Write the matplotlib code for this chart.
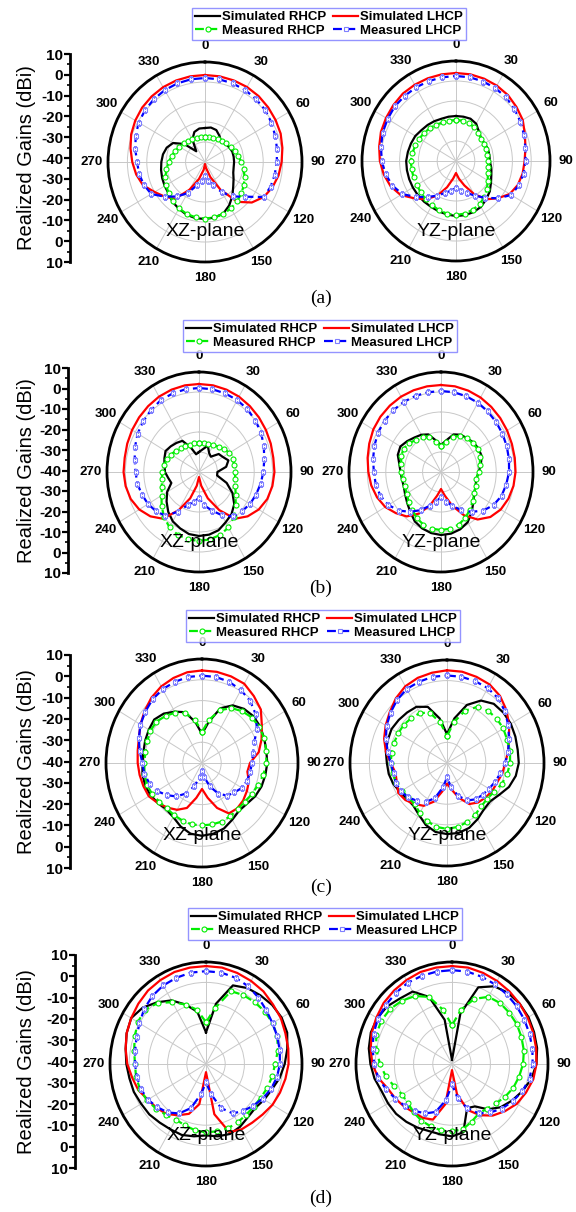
import numpy as np
import matplotlib
matplotlib.use('Agg')
from matplotlib import pyplot as plt
from matplotlib.lines import Line2D
from matplotlib.ticker import MultipleLocator

plt.rcParams['font.family'] = ['Liberation Sans', 'DejaVu Sans']

W, H = 576, 1212

ANGLES = list(range(0, 360, 10))
THETA_TICKS = list(range(0, 360, 30))
GAIN_TICKS = [10, 0, -10, -20, -30, -40, -30, -20, -10, 0, 10]
SERIES = ['Simulated RHCP', 'Simulated LHCP', 'Measured RHCP', 'Measured LHCP']
CAPTIONS = ['(a)', '(b)', '(c)', '(d)']
PLANES = ['XZ-plane', 'YZ-plane']

# (a) -------------------------------------------------------------
a_xz_sim_rhcp = [-23, -22.5, -23, -25, -27, -26, -25.5, -25, -25, -25, -25, -24.5,
                 -23, -21, -18, -15, -12.5, -11.8, -11.5, -11.5, -12, -13, -14, -15.5,
                 -16, -16.5, -17, -17.5, -18, -19, -21, -26, -33, -27, -24, -23]
a_xz_sim_lhcp = [3.5, 3.5, 3.4, 3.3, 3, 2.5, 2, 1.5, 0.5, -0.5, -1.5, -3,
                 -5, -8.5, -14, -24, -32, -37, -39, -36, -31, -24, -16, -13,
                 -10, -6, -4, -2.5, -1, 0.5, 1.5, 2.3, 2.8, 3.2, 3.4, 3.5]
a_xz_meas_rhcp = [-27.5, -27.5, -27.3, -27, -26.3, -25.6, -24.8, -23.7, -22.5, -21.3, -19.8, -18.3,
                  -16.9, -15.5, -14.3, -13.2, -12.4, -11.9, -11.7, -11.9, -12.4, -13.2, -14.3, -15.5,
                  -16.9, -18.3, -19.8, -21.3, -22.5, -23.7, -24.8, -25.6, -26.3, -27, -27.3, -27.5]
a_xz_meas_lhcp = [2, 2, 1.8, 1.5, 1, 0.5, -0.5, -1.5, -2.3, -3, -3.5, -4,
                  -5, -13, -17.5, -22.5, -27.5, -30.5, -33, -30.5, -27.5, -22, -17.5, -13,
                  -8, -6.5, -5.5, -5, -3.5, -2, -0.5, 0.3, 1, 1.5, 1.8, 2]

a_yz_sim_rhcp = [-17.5, -17.5, -17.5, -18.5, -21, -22.5, -22.5, -22, -22, -22, -21, -20,
                 -18.5, -16.5, -15, -13.5, -12.8, -12.5, -12.5, -12.8, -13.2, -13.5, -13.5, -13.5,
                 -13.5, -13.5, -13.5, -13.5, -14, -14.5, -15, -16, -16.5, -17, -17.5, -17.5]
a_yz_sim_lhcp = [4, 4, 3.8, 3.5, 3, 2, 1, -1, -2.5, -3.5, -4, -5,
                 -7, -11, -15, -21, -27, -31, -34, -31, -26, -20, -15, -11,
                 -6, -3, -1, 0.5, 1.5, 2.5, 3, 3.5, 4, 4, 4, 4]
a_yz_meas_rhcp = [-19.5, -19.5, -20, -20.5, -21.5, -22.5, -23, -23, -23, -23, -22.5, -22,
                  -20.5, -18.5, -16.5, -15, -14, -13.3, -13, -13.2, -13.8, -14.5, -15, -15.5,
                  -16, -16, -16, -16, -16.5, -17, -17.5, -18, -18.5, -19, -19.5, -19.5]
a_yz_meas_lhcp = [2.5, 2.5, 2.3, 2, 1.5, 0.5, -0.5, -1.5, -2.5, -3, -3.5, -4.5,
                  -6, -11, -16, -20, -23, -25, -26.5, -25, -23, -20, -16.5, -12,
                  -7, -4, -2, -0.5, 0.5, 1.5, 2, 2.5, 2.5, 2.5, 2.5, 2.5]

# (b) -------------------------------------------------------------
b_xz_sim_rhcp = [-30, -28.5, -26, -29, -30, -26, -25, -23, -25, -30, -30, -24,
                 -19, -15, -12.5, -11, -9, -8.2, -8, -8.5, -10, -11.5, -14, -17,
                 -20, -24, -23, -21.5, -21, -20, -19, -20, -21, -22, -27, -31]
b_xz_sim_lhcp = [4, 4, 3.8, 3.5, 3, 2.5, 2, 1.5, 1, 1, 0.5, -0.5,
                 -2.5, -5.5, -9.5, -18, -26, -33, -37.5, -33, -26, -18, -9.5, -5.5,
                 -2.5, -0.5, 0.5, 1, 1, 1.5, 2, 2.5, 3, 3.5, 3.8, 4]
b_xz_meas_rhcp = [-25.5, -25.5, -25, -24.5, -23.5, -22, -21, -20.5, -20.5, -20.5, -20, -19,
                  -17, -14, -10.5, -8, -6.5, -5.8, -5.5, -5.8, -6.5, -8, -10.5, -13.5,
                  -16.5, -18.5, -19.5, -20, -20.5, -21.5, -22.5, -23.5, -24.5, -25, -25.5, -25.5]
b_xz_meas_lhcp = [2, 2, 1.8, 1.5, 1, 0, -1, -2.5, -4, -5, -6, -7,
                  -8, -9.5, -11, -15, -19.5, -23, -27, -25, -22.5, -17, -11.5, -9.5,
                  -8, -7, -6, -5.5, -4.5, -3, -1.5, -0.5, 0.5, 1.5, 1.8, 2]

b_yz_sim_rhcp = [-26.5, -24, -20, -18.5, -18, -17, -16.5, -16.5, -18, -19.5, -20.5, -20,
                 -19, -17, -14, -11, -9.5, -8.7, -8.5, -9, -10, -11.5, -14, -16,
                 -17.5, -18.5, -18.5, -18, -17, -15, -14.5, -16, -17.5, -18.5, -20, -24]
b_yz_sim_lhcp = [3.5, 3.5, 3.3, 3, 2.5, 2, 1.5, 1, 0.7, 0.5, 0, -1,
                 -2.5, -5, -9, -15, -22, -28, -31.5, -28, -22, -16, -11, -8,
                 -5, -3, -1.5, -0.5, 0.5, 1.5, 2.5, 3, 3.3, 3.5, 3.5, 3.5]
b_yz_meas_rhcp = [-27, -25, -21.5, -19, -18, -17.5, -17, -17.5, -18.5, -19.5, -20.5, -20,
                  -19, -17.5, -15.5, -13.5, -12, -11.2, -11, -11.2, -12, -13.5, -15.5, -17,
                  -18.5, -19, -19, -18.5, -18, -17, -16.5, -17.5, -19, -20, -21.5, -25]
b_yz_meas_lhcp = [0.5, 0.5, 0.3, 0, -0.5, -1, -1.5, -2, -2.5, -3, -4, -5,
                  -7, -10, -14, -18, -22, -25, -27.5, -25, -22, -18, -14, -10,
                  -7, -5, -4, -3.5, -2.5, -1.5, -0.5, 0, 0.3, 0.5, 0.5, 0.5]

# (c) -------------------------------------------------------------
c_xz_sim_rhcp = [-26, -20, -12, -8, -6, -5, -5, -5.5, -6, -6, -6.5, -7,
                 -8, -9.5, -10, -8.5, -6.5, -5.5, -5, -5.5, -7.5, -10, -11, -10,
                 -9, -8.5, -8.5, -9, -9, -8.5, -8, -7.5, -9, -11.5, -14, -20]
c_xz_sim_lhcp = [4.5, 4.5, 4.3, 4, 2, 0, -4, -7, -10, -15, -16, -14,
                 -13, -12, -11.5, -12, -17, -23, -27.5, -23, -17, -14, -12, -10,
                 -8, -7.5, -7, -6.5, -6, -5, -3, -1, 1, 2.5, 3.5, 4.3]
c_xz_meas_rhcp = [-25, -19, -13, -9.5, -7.5, -6, -5.5, -5.5, -6, -6.5, -7.5, -9,
                  -10, -11, -11, -10.5, -10, -10, -10, -10, -10.5, -11, -11.5, -11,
                  -10, -9.5, -9.5, -10, -10, -9.5, -9, -9, -10.5, -12, -14.5, -19]
c_xz_meas_lhcp = [2, 2, 1.5, 0.5, -1, -3.5, -7, -11, -13, -14, -14.5, -15,
                  -16, -18, -19.5, -23, -28, -33, -36, -33, -28, -23, -19, -16,
                  -13, -11, -9.5, -9, -7, -5, -3, -1.5, 0, 1, 1.5, 2]

c_yz_sim_rhcp = [-26, -18, -10, -5, -2.5, -2, -2, -2.5, -3, -3, -4, -6,
                 -9, -11, -10.5, -8.5, -6.5, -5.5, -5.5, -6, -8, -11, -13, -13,
                 -12, -10.5, -9.5, -9, -8, -7.5, -7, -7.5, -8, -8.5, -11, -18]
c_yz_sim_lhcp = [5, 5, 4.5, 4, 2.5, 0, -3, -6, -8, -10, -11, -12.5,
                 -13, -14, -15, -17, -22, -27, -30, -26, -20, -16, -14, -12,
                 -11, -12.5, -13, -11, -8, -5.5, -3.5, -1.5, 1, 3, 4, 4.5]
c_yz_meas_rhcp = [-27, -20, -13, -8.5, -7, -6.5, -6.5, -7, -7, -7.5, -8.5, -10,
                  -12, -13, -12.5, -11, -9.5, -8.5, -8, -8.5, -10, -12, -14, -14,
                  -13, -12, -11.5, -11, -11, -11, -11, -11, -11.5, -12, -14, -20]
c_yz_meas_lhcp = [2.5, 2.5, 2.3, 2, 1, -1, -3.5, -6, -8, -10, -12, -13.5,
                  -15, -16, -17, -19, -23, -28, -33, -28, -22, -18, -16, -14,
                  -12.5, -12, -12, -11, -9, -6.5, -4, -2, 0, 1.5, 2, 2.5]

# (d) -------------------------------------------------------------
d_xz_sim_rhcp = [-24.5, -10, 1, 3, 4, 5, 5.5, 5, 3, 1, -1, -3.5,
                 -5, -6.5, -6, -4.5, -3.5, -4, -5, -4, -3, -3, -2.5, -1.5,
                 -1, 0, 0.5, 1.5, 2.5, 4, 5, 3, -0.5, -4, -9, -14]
d_xz_sim_lhcp = [8, 8, 7.5, 7, 6.5, 5.5, 5, 4, 3.5, 3, 2, 1,
                 0, -1.5, -2.5, -3, -4.5, -15, -36, -20, -14, -11, -8, -6.5,
                 -5, -2.5, -1, 1, 2.5, 4, 5, 6, 7, 7.5, 8, 8]
d_xz_meas_rhcp = [-19.5, -12, -2, -1, -0.5, 0, 0, -0.5, -2, -4, -5, -6,
                  -7, -7.5, -7.5, -7, -6.5, -6.5, -6.5, -7, -8, -8.5, -7.5, -6,
                  -4.5, -3.5, -3, -3, -2, -0.5, 1, 1.5, -1, -5, -9, -13]
d_xz_meas_lhcp = [5.5, 5.5, 5, 4, 2.5, 1, 0, -0.5, -1, -1.5, -2.5, -4,
                  -6, -8, -10, -12, -17, -25, -31, -25, -17, -12, -9, -7,
                  -5, -4, -3.5, -3, -2.5, -1.5, 0, 2, 3.5, 4.5, 5, 5.5]

d_yz_sim_rhcp = [-38, -15, 0, 4, 5.5, 6, 6, 5.5, 5, 4, 2, -1,
                 -4, -7, -11, -16, -17, -6, -4.5, -5, -5, -4, -3, -2,
                 -1.5, -1, 1, 2.5, 4, 5, 5, 4, 2, 1, -5, -18]
d_yz_sim_lhcp = [8, 8, 7.5, 7, 6.5, 6, 5.5, 5, 4.5, 4, 3, 1,
                 -1, -4, -7, -11, -16, -25, -37, -20, -11, -9.5, -9, -7.5,
                 -6, -4.5, -1, 1.5, 3, 4.5, 5.5, 6.5, 7, 7.5, 8, 8]
d_yz_meas_rhcp = [-21, -13, -6, -2, -1, -1, -1, -1.5, -2, -3, -4.5, -6,
                  -8, -10, -11.5, -12, -10, -7.5, -7, -7, -7.5, -8, -9, -10,
                  -10, -8, -5, -2.5, 0, 2, 2.5, 2, 0.5, -1.5, -5, -13]
d_yz_meas_lhcp = [6, 6, 5.5, 5, 4.5, 4, 3.5, 3, 2.5, 2, 1, -1,
                  -3.5, -6, -9, -12, -17, -23, -30, -22, -15, -12, -10, -8,
                  -6, -3.5, -1, 0.5, 2, 3.5, 4.5, 5, 5.5, 6, 6, 6]

PANELS = [
    [(a_xz_sim_rhcp, a_xz_sim_lhcp, a_xz_meas_rhcp, a_xz_meas_lhcp),
     (a_yz_sim_rhcp, a_yz_sim_lhcp, a_yz_meas_rhcp, a_yz_meas_lhcp)],
    [(b_xz_sim_rhcp, b_xz_sim_lhcp, b_xz_meas_rhcp, b_xz_meas_lhcp),
     (b_yz_sim_rhcp, b_yz_sim_lhcp, b_yz_meas_rhcp, b_yz_meas_lhcp)],
    [(c_xz_sim_rhcp, c_xz_sim_lhcp, c_xz_meas_rhcp, c_xz_meas_lhcp),
     (c_yz_sim_rhcp, c_yz_sim_lhcp, c_yz_meas_rhcp, c_yz_meas_lhcp)],
    [(d_xz_sim_rhcp, d_xz_sim_lhcp, d_xz_meas_rhcp, d_xz_meas_lhcp),
     (d_yz_sim_rhcp, d_yz_sim_lhcp, d_yz_meas_rhcp, d_yz_meas_lhcp)],
]

# pixel layout of each row: legend centre, left scale (x, top, bottom),
# polar centres/radii, caption centre
ROWS = [
    dict(leg=(329, 24), scale=(70, 54, 262),
         polar=[(205, 162, 97, 100), (456, 161, 94, 100)], cap=(321, 298)),
    dict(leg=(320, 336), scale=(68, 368, 573),
         polar=[(199, 472, 92, 100), (441, 472, 92, 100)], cap=(321, 588)),
    dict(leg=(323, 626), scale=(70, 655, 868),
         polar=[(202, 763, 96, 104), (447, 763, 97, 103)], cap=(321, 887)),
    dict(leg=(325, 924), scale=(75, 955, 1168),
         polar=[(206, 1064, 96, 102), (452, 1064, 96, 102)], cap=(321, 1198)),
]

STYLES = [
    dict(color='black', lw=1.6, ls='-'),
    dict(color='#ff0000', lw=1.6, ls='-'),
    dict(color='#00ee00', lw=1.6, ls=(0, (4, 2)), marker='o', ms=3.6,
         mfc='white', mec='#00ee00', mew=0.8),
    dict(color='#0000ff', lw=1.6, ls=(0, (4, 2)), marker='s', ms=3.2,
         mfc='white', mec='#7f7fff', mew=0.8),
]
DRAW_ORDER = [0, 1, 2, 3]


def px_box(cx, cy, rx, ry):
    return [(cx - rx) / W, 1 - (cy + ry) / H, 2 * rx / W, 2 * ry / H]


def main():
    fig = plt.figure(figsize=(W / 100, H / 100), dpi=100)
    theta = np.deg2rad(ANGLES + [360])

    for row, panels, cap in zip(ROWS, PANELS, CAPTIONS):
        # left gain scale
        sx, sy0, sy1 = row['scale']
        sax = fig.add_axes([sx / W, 1 - sy1 / H, 0.0005, (sy1 - sy0) / H])
        sax.set_ylim(-50, 50)
        sax.set_yticks(np.arange(50, -51, -10))
        sax.set_yticklabels([str(v) for v in GAIN_TICKS],
                            fontsize=11, fontweight='bold')
        sax.yaxis.set_minor_locator(MultipleLocator(5))
        sax.set_xticks([])
        for side in ['top', 'right', 'bottom']:
            sax.spines[side].set_visible(False)
        sax.spines['left'].set_linewidth(2)
        sax.tick_params(axis='y', which='major', direction='out', length=4,
                        width=1.6, pad=1)
        sax.tick_params(axis='y', which='minor', direction='out', length=2.5,
                        width=1.2)
        fig.text(27 / W, 1 - (sy0 + sy1) / 2 / H, 'Realized Gains (dBi)',
                 rotation=90, ha='center', va='center', fontsize=14.5)

        for (cx, cy, rx, ry), curves, plane in zip(row['polar'], panels, PLANES):
            ax = fig.add_axes(px_box(cx, cy, rx, ry), projection='polar')
            ax.set_aspect('auto')
            ax.set_theta_zero_location('N')
            ax.set_theta_direction(-1)
            for i in DRAW_ORDER:
                vals = list(curves[i]) + [curves[i][0]]
                ax.plot(theta, vals, label=SERIES[i], **STYLES[i])
            ax.set_rlim(-40, 10)
            ax.set_rticks([-30, -20, -10, 0])
            ax.set_yticklabels([])
            ax.set_thetagrids(THETA_TICKS, labels=[str(t) for t in THETA_TICKS],
                              fontsize=9.5, fontweight='bold')
            ax.tick_params(axis='x', pad=1)
            ax.grid(color='#c8c8c8', lw=0.7)
            ax.spines['polar'].set_linewidth(2)
            ax.text(0.5, 0.15, plane, transform=ax.transAxes, ha='center',
                    va='center', fontsize=14, zorder=10)

        handles = [Line2D([], [], **STYLES[i]) for i in range(4)]
        order = [0, 2, 1, 3]
        lx, ly = row['leg']
        leg = fig.legend([handles[i] for i in order], [SERIES[i] for i in order],
                         ncol=2, loc='center', bbox_to_anchor=(lx / W, 1 - ly / H),
                         prop=dict(weight='bold', size=9.5), frameon=True,
                         fancybox=False, borderpad=0.2, labelspacing=0.1,
                         handlelength=1.9, handletextpad=0.15, columnspacing=0.5,
                         borderaxespad=0)
        leg.get_frame().set_edgecolor('#7a7aff')
        leg.get_frame().set_linewidth(1)

        fig.text(row['cap'][0] / W, 1 - row['cap'][1] / H, cap,
                 family='Liberation Serif', fontsize=14, ha='center', va='center')

    fig.savefig('out.png', dpi=100)


if __name__ == '__main__':
    main()
